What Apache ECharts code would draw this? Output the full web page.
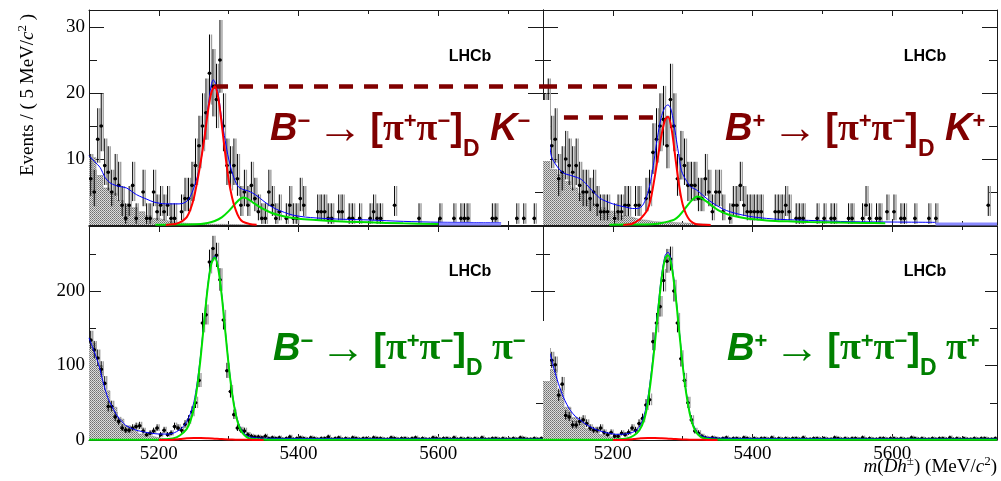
<!DOCTYPE html>
<html>
<head>
<meta charset="utf-8">
<script src="https://cdn.jsdelivr.net/npm/echarts@6.0.0/dist/echarts.min.js"></script>
<style>
html,body{margin:0;padding:0;background:#ffffff;}
#chart{width:1001px;height:481px;}
</style>
</head>
<body>
<div id="chart"></div>
<script>
// ================= DATA =================
const massMin = 5100, massMax = 5750, binWidth = 5, hatchBinWidth = 10;

// tick values / labels
const xTickMajor = [5200, 5400, 5600];
const xTickMinor = [5300, 5500, 5700];
const xLabels = [5200, 5400, 5600];
const yTopMajor = [10, 20, 30];
const yTopMinor = [5, 15, 25];
const yTopLabels = [10, 20, 30];
const yBotMajor = [100, 200];
const yBotMinor = [50, 150, 250];
const yBotLabels = [0, 100, 200];

// events per 5 MeV bin starting at 5100 MeV
const countsDKminus = [7,5,13,15,9,8,5,7,6,3, 1,3,6,1,0,5,1,1,5,2, 3,2,3,1,1,0,2,4,4,6,
 9,12,15,17,23,21,19,25,15,9, 8,9,7,3,5,3,6,4,2,1, 1,5,3,1,2,0,1,3,1,1, 4,3,0,0,0,2,2,2,1,1,
 0,2,2,0,1,1,0,1,0,0, 1,2,1,1,0,0,0,3,0,0, 0,0,0,0,1,0,0,0,0,0, 1,0,0,0,1,0,1,1,1,0,
 0,0,0,0,0,1,1,0,0,0, 0,0,1,0,1,0,0,1,0,0];
const countsDKplus = [15,17,12,13,7,8,10,9,8,9, 6,5,5,4,5,3,2,2,2,0, 1,2,2,3,3,0,3,3,0,4,
 5,11,13,15,16,12,19,15,7,10, 9,6,6,6,4,4,7,5,2,5, 5,2,0,1,3,3,6,3,2,2, 2,2,2,0,0,0,2,2,2,3,
 2,0,1,1,1,0,0,0,1,0, 1,0,1,1,0,0,0,1,1,0, 0,1,3,1,0,1,1,0,2,0, 2,0,1,1,0,0,1,0,0,0,
 1,0,1,0,0,0,0,0,0,0, 0,0,0,0,0,0,0,3,0,0];
const countsDpiminus = [134,121,110,95,76,45,45,31,25,16, 13,13,16,18,19,12,7,9,12,16, 7,13,7,9,18,16,13,21,27,38,
 50,80,157,168,239,257,248,215,161,93, 65,34,16,13,12,7,5,4,4,3, 5,2,3,2,3,1,2,4,1,2, 3,2,1,3,2,1,2,2,4,1,
 2,3,1,2,1,3,2,1,2,2, 1,3,2,2,1,1,3,2,1,2, 2,1,2,3,1,2,1,1,3,2, 1,2,2,1,3,1,2,1,2,1,
 2,1,3,1,1,2,2,1,2,1, 1,2,1,3,2,1,1,2,1,2];
const countsDpiplus = [125,112,107,101,60,75,33,31,20,20, 25,27,22,16,13,13,16,10,7,10, 5,5,9,7,10,16,13,22,29,47,
 54,132,157,179,214,240,243,200,157,109, 80,50,27,12,9,5,3,2,3,2, 1,2,3,1,2,2,1,3,2,1, 2,1,2,2,1,3,1,2,1,2,
 1,2,2,1,3,1,1,2,2,1, 2,1,1,3,2,1,2,1,2,2, 1,3,1,2,1,1,2,2,1,2, 2,1,2,1,1,3,2,1,2,1,
 1,2,1,2,2,1,3,1,2,1, 2,1,1,2,1,2,2,1,1,2];

// partially reconstructed background histograms (10 MeV bins from 5100)
const hatchDKminus = [10.2,7.5,5.6,4.8,3.7,3.1,2.6,2.0,1.4,1.0,0.7,0.5,0.35,0.25,0.2,0.15,0.12,0.1,0.1,0.08,0.06,0.05,0.03];
const hatchDKplus = [9.7,8.4,7.6,6.6,5.6,4.8,3.8,3.2,2.6,2.1,1.8,1.4,1.1,0.8,0.7,0.5,0.45,0.4,0.35,0.3,0.25,0.2,0.15,0.1];
const hatchDpiminus = [130,100,66,44,28,19,12.5,8,5,3,1.5,0.8,0.3];
const hatchDpiplus = [79,95,66,44,30,21,15,10,7,4,2,1,0.5];

// fit curves [mass, value]
const redDKminus = [[5210,0],[5220,0.1],[5225,0.2],[5230,0.4],[5235,0.7],[5240,1.2],[5245,2.3],[5250,4.0],[5255,6.6],[5260,9.6],[5265,13.0],[5270,17.0],[5275,20.0],[5280,21.0],[5285,19.3],[5290,15.3],[5295,10.8],[5300,6.8],[5305,4.1],[5310,2.3],[5315,1.1],[5320,0.5],[5330,0.15],[5340,0.03]];
const greenDKminus = [[5195,0.05],[5220,0.06],[5240,0.08],[5260,0.15],[5270,0.3],[5280,0.6],[5290,1.15],[5300,2.1],[5310,3.3],[5317,4.0],[5322,4.15],[5328,3.9],[5335,3.4],[5342,2.9],[5350,2.4],[5360,1.9],[5370,1.55],[5380,1.3],[5390,1.1],[5400,0.95],[5420,0.78],[5440,0.65],[5470,0.5],[5500,0.4],[5550,0.25],[5600,0.15]];
const blueDKminus = [[5100,10.5],[5108,9.6],[5116,8.7],[5123,7.2],[5130,6.4],[5138,6.0],[5146,5.8],[5154,5.6],[5161,5.1],[5168,4.6],[5176,4.2],[5183,3.9],[5192,3.5],[5201,3.3],[5210,3.2],[5220,3.2],[5229,3.2],[5235,3.3],[5240,3.6],[5245,4.3],[5250,5.6],[5255,7.3],[5260,9.6],[5265,13.2],[5270,17.5],[5275,21.2],[5278,22.0],[5282,21.2],[5286,19.2],[5290,16.0],[5295,12.8],[5300,10.0],[5306,7.6],[5313,5.9],[5320,5.4],[5327,5.2],[5335,4.8],[5342,4.3],[5349,3.7],[5358,3.0],[5368,2.4],[5380,1.9],[5392,1.5],[5410,1.2],[5440,0.97],[5470,0.85],[5501,0.76],[5550,0.55],[5601,0.42],[5650,0.38],[5690,0.35]];
const combDKminus = [[5601,0.15],[5690,0.15]];

const redDKplus = [[5215,0],[5225,0.1],[5230,0.3],[5235,0.6],[5240,1.0],[5245,1.6],[5250,2.4],[5255,4.3],[5260,7.3],[5265,10.6],[5270,13.8],[5275,16.0],[5279,16.4],[5284,14.6],[5290,9.8],[5295,5.9],[5300,3.1],[5305,1.6],[5310,0.75],[5315,0.32],[5320,0.12],[5330,0.03],[5340,0]];
const greenDKplus = [[5195,0.05],[5240,0.08],[5260,0.15],[5270,0.3],[5280,0.55],[5288,0.8],[5295,1.4],[5302,2.3],[5311,3.5],[5317,4.1],[5322,4.3],[5328,4.0],[5335,3.5],[5342,2.9],[5350,2.3],[5360,1.8],[5368,1.5],[5380,1.2],[5392,1.0],[5410,0.8],[5425,0.65],[5450,0.55],[5480,0.45],[5520,0.38],[5560,0.3],[5590,0.28]];
const blueDKplus = [[5100,14],[5108,13],[5112,10.4],[5120,8.9],[5129,7.9],[5143,7.4],[5155,6.9],[5167,5.6],[5181,4.1],[5190,3.6],[5200,3.2],[5210,2.9],[5219,2.7],[5228,2.5],[5235,2.5],[5240,2.7],[5244,3.2],[5250,4.8],[5254,6.6],[5258,9.0],[5262,12],[5266,14.6],[5270,16.6],[5275,17.9],[5279,18.2],[5283,17.6],[5287,15.6],[5291,12.9],[5295,10.2],[5298,8.3],[5302,7.3],[5306,6.6],[5311,5.8],[5320,5.3],[5329,4.5],[5338,3.7],[5348,3.0],[5358,2.4],[5368,2.0],[5382,1.6],[5396,1.3],[5420,1.0],[5440,0.85],[5480,0.7],[5540,0.5],[5600,0.45],[5662,0.4]];
const combDKplus = [[5662,0.15],[5750,0.15]];

const redDpiminus = [[5200,0.1],[5220,0.4],[5230,1.2],[5240,2.2],[5250,2.8],[5260,2.8],[5270,2.4],[5280,1.8],[5290,1.2],[5300,0.8],[5310,0.5],[5320,0.3],[5335,0.15],[5350,0.05]];
const greenDpiminus = [[5100,0.3],[5200,0.5],[5220,2],[5230,6],[5240,15],[5245,25],[5250,42],[5255,72],[5260,112],[5265,160],[5270,205],[5275,236],[5280,245],[5285,230],[5290,194],[5295,147],[5300,100],[5305,62],[5310,35],[5315,18],[5320,9],[5325,4.5],[5330,2.2],[5340,0.9],[5360,0.5],[5750,0.4]];
const blueDpiminus = [[5100,137],[5105,125],[5110,112],[5115,98],[5119,82],[5124,65],[5128,54],[5133,45],[5138,36],[5143,29],[5148,24],[5152,20],[5160,16],[5167,13.4],[5175,11.5],[5181,10.3],[5190,9],[5201,8],[5214,8],[5220,9],[5225,11],[5230,14],[5235,18],[5240,25],[5245,35],[5250,50],[5255,78],[5260,116],[5265,163],[5270,207],[5275,238],[5280,247],[5285,232],[5290,196],[5295,149],[5300,102],[5305,64],[5310,37],[5315,20],[5320,11],[5325,6.5],[5330,4.2],[5340,2.8],[5360,2.2],[5400,2.0],[5500,1.8],[5600,1.6],[5750,1.4]];

const redDpiplus = [[5200,0.1],[5220,0.4],[5230,1.2],[5240,2.2],[5250,2.8],[5260,2.8],[5270,2.4],[5280,1.8],[5290,1.2],[5300,0.8],[5310,0.5],[5320,0.3],[5335,0.15],[5350,0.05]];
const greenDpiplus = [[5100,0.3],[5200,0.5],[5220,2],[5230,6],[5238,13],[5245,28],[5250,50],[5255,85],[5260,128],[5265,175],[5270,218],[5275,244],[5279,248],[5284,234],[5290,192],[5295,146],[5300,100],[5305,63],[5310,36],[5315,19],[5320,9.5],[5325,4.8],[5330,2.4],[5340,1.0],[5360,0.5],[5750,0.4]];
const blueDpiplus = [[5100,125],[5109,118],[5115,98],[5122,76],[5129,58],[5134,48],[5139,40],[5146,32],[5153,27],[5160,22],[5167,18],[5176,14],[5186,11],[5195,9],[5205,7.6],[5215,7.8],[5224,9],[5232,12],[5239,19],[5245,34],[5250,56],[5255,91],[5260,134],[5265,181],[5270,223],[5275,248],[5279,252],[5284,238],[5290,195],[5295,149],[5300,102],[5305,65],[5310,38],[5315,21],[5320,11.5],[5325,6.8],[5330,4.4],[5340,3.0],[5360,2.3],[5400,2.0],[5500,1.8],[5600,1.6],[5750,1.4]];

// dashed peak-height guides
const dashDKminus = [[5279,21.0],[5750,21.0]];
const dashDKminusCarry = [[5100,21.0],[5273,21.0]];
const dashDKplus = [[5130,16.4],[5259,16.4]];

// ================= HELPERS =================
function poisLo(n){ const t = 1 - 1/(9*n) - 1/(3*Math.sqrt(n)); return n*t*t*t; }
function poisHi(n){ const m = n+1; const t = 1 - 1/(9*m) + 1/(3*Math.sqrt(m)); return m*t*t*t; }
function pointData(counts){
  const out = [];
  counts.forEach((n,k)=>{ if(n>0){ out.push([massMin + binWidth*(k+0.5), n, Math.max(0,poisLo(n)), poisHi(n)]); } });
  return out;
}
function hatchData(vals){
  const out = vals.map((v,i)=>[massMin + hatchBinWidth*i, v]);
  out.push([massMin + hatchBinWidth*vals.length, vals[vals.length-1]]);
  return out;
}
function makePattern(){
  const c = document.createElement('canvas'); c.width = 2; c.height = 2;
  const ctx = c.getContext('2d');
  ctx.fillStyle = '#dcdcdc'; ctx.fillRect(0,0,2,2);
  ctx.fillStyle = '#6e6e6e'; ctx.fillRect(0,0,1,1);
  ctx.fillStyle = '#8c8c8c'; ctx.fillRect(1,1,1,1);
  return {image: c, repeat: 'repeat'};
}
const pattern = makePattern();

function renderPoint(params, api){
  const m = api.value(0), n = api.value(1), lo = api.value(2), hi = api.value(3);
  const c = api.coord([m, n]);
  const cLo = api.coord([m, lo]), cHi = api.coord([m, hi]);
  const cL = api.coord([m - binWidth/2, n]), cR = api.coord([m + binWidth/2, n]);
  return {type:'group', children:[
    {type:'line', shape:{x1:c[0]+2, y1:cLo[1], x2:c[0]+2, y2:cHi[1]}, style:{stroke:'#a0a0a0', lineWidth:1.4}},
    {type:'line', shape:{x1:c[0], y1:cLo[1], x2:c[0], y2:cHi[1]}, style:{stroke:'#000', lineWidth:1}},
    {type:'line', shape:{x1:cL[0], y1:c[1], x2:cR[0], y2:c[1]}, style:{stroke:'#000', lineWidth:1}},
    {type:'circle', shape:{cx:c[0], cy:c[1], r:1.8}, style:{fill:'#000'}}
  ]};
}

const AX = '#1a1a1a';
const plainNum = v => String(v);
function xAx(g, pos, ticks, len, showLine, labels){
  return {type:'value', gridIndex:g, position:pos, min:massMin, max:massMax,
    axisLine:{show:showLine, onZero:false, lineStyle:{color:AX, width:1}},
    axisTick:{show:true, inside:true, length:len, customValues:ticks, lineStyle:{color:AX, width:1}},
    axisLabel: labels ? {show:true, customValues:labels, formatter:plainNum, margin:5, color:'#000', fontFamily:'Liberation Serif', fontSize:19} : {show:false},
    splitLine:{show:false}, minorTick:{show:false}};
}
function yAx(g, pos, max, ticks, len, showLine, labels){
  return {type:'value', gridIndex:g, position:pos, min:0, max:max,
    axisLine:{show:showLine, onZero:false, lineStyle:{color:AX, width:1}},
    axisTick:{show:true, inside:true, length:len, customValues:ticks, lineStyle:{color:AX, width:1}},
    axisLabel: labels ? {show:true, customValues:labels, formatter:plainNum, margin:4, color:'#000', fontFamily:'Liberation Serif', fontSize:19} : {show:false},
    splitLine:{show:false}, minorTick:{show:false}};
}

// ================= PANELS =================
const topMax = 215/6.6, botMax = 214/0.745;
const panels = [
  {grid:{left:89, top:10, width:454, height:215}, max:topMax, maj:yTopMajor, min:yTopMinor, lab:yTopLabels, mjL:15, mnL:8, showY:true, showX:false,
   counts:countsDKminus, hatch:hatchDKminus, blue:blueDKminus, green:greenDKminus, red:redDKminus, comb:combDKminus, dashes:[dashDKminus]},
  {grid:{left:543, top:10, width:454, height:215}, max:topMax, maj:yTopMajor, min:yTopMinor, lab:yTopLabels, mjL:15, mnL:8, showY:false, showX:false,
   counts:countsDKplus, hatch:hatchDKplus, blue:blueDKplus, green:greenDKplus, red:redDKplus, comb:combDKplus, dashes:[dashDKminusCarry, dashDKplus]},
  {grid:{left:89, top:226, width:454, height:214}, max:botMax, maj:yBotMajor, min:yBotMinor, lab:yBotLabels, mjL:12, mnL:7, showY:true, showX:true,
   counts:countsDpiminus, hatch:hatchDpiminus, blue:blueDpiminus, green:greenDpiminus, red:redDpiminus, comb:null, dashes:[]},
  {grid:{left:543, top:226, width:454, height:214}, max:botMax, maj:yBotMajor, min:yBotMinor, lab:yBotLabels, mjL:12, mnL:7, showY:false, showX:true,
   counts:countsDpiplus, hatch:hatchDpiplus, blue:blueDpiplus, green:greenDpiplus, red:redDpiplus, comb:null, dashes:[]}
];

const grids = [], xAxes = [], yAxes = [], series = [];
panels.forEach((p,g)=>{
  grids.push(Object.assign({containLabel:false, outerBoundsMode:'none', show:false}, p.grid));
  xAxes.push(xAx(g,'bottom',xTickMajor,6,true,p.showX?xLabels:null));
  xAxes.push(xAx(g,'bottom',xTickMinor,4,false,null));
  xAxes.push(xAx(g,'top',xTickMajor,6,true,null));
  xAxes.push(xAx(g,'top',xTickMinor,4,false,null));
  yAxes.push(yAx(g,'left',p.max,p.maj,p.mjL,true,p.showY?p.lab:null));
  yAxes.push(yAx(g,'left',p.max,p.min,p.mnL,false,null));
  yAxes.push(yAx(g,'right',p.max,p.maj,p.mjL,true,null));
  yAxes.push(yAx(g,'right',p.max,p.min,p.mnL,false,null));
  const xi = 4*g, yi = 4*g;
  series.push({type:'line', xAxisIndex:xi, yAxisIndex:yi, data:hatchData(p.hatch), step:'end', symbol:'none',
    lineStyle:{width:0.6, color:'#8a8a8a'}, areaStyle:{color:pattern, opacity:1}, z:1, silent:true, animation:false});
  series.push({type:'custom', xAxisIndex:xi, yAxisIndex:yi, data:pointData(p.counts), renderItem:renderPoint,
    encode:{x:0, y:1}, clip:true, z:2, silent:true, animation:false});
  series.push({type:'line', xAxisIndex:xi, yAxisIndex:yi, data:p.blue, smooth:0.3, symbol:'none',
    lineStyle:{width:1, color:'#0000ff'}, z:3, silent:true, animation:false});
  if(p.comb){
    series.push({type:'line', xAxisIndex:xi, yAxisIndex:yi, data:p.comb, symbol:'none',
      lineStyle:{width:3, color:'#8a8aff'}, z:3, silent:true, animation:false});
  }
  series.push({type:'line', xAxisIndex:xi, yAxisIndex:yi, data:p.green, smooth:0.3, symbol:'none',
    lineStyle:{width:2, color:'#00e000'}, z:4, silent:true, animation:false});
  const red = {type:'line', xAxisIndex:xi, yAxisIndex:yi, data:p.red, smooth:0.3, symbol:'none',
    lineStyle:{width:2, color:'#ff0000'}, z:5, silent:true, animation:false};
  if(p.dashes.length){
    red.markLine = {symbol:['none','none'], silent:true, animation:false, label:{show:false},
      lineStyle:{type:[14,11], width:4.5, color:'#800000', cap:'butt'},
      data: p.dashes.map(d=>[{coord:d[0]},{coord:d[1]}])};
  }
  series.push(red);
});

// ================= TEXT =================
const RED = '#800000', GRN = '#008000';
function decayRich(col){ return {
  b:{fontFamily:'Liberation Sans', fontSize:38, fontWeight:'bold', fontStyle:'italic', fill:col, height:40, lineHeight:40, verticalAlign:'top'},
  bu:{fontFamily:'Liberation Sans', fontSize:38, fontWeight:'bold', fill:col, height:40, lineHeight:40, verticalAlign:'top'},
  pi:{fontFamily:'Liberation Serif', fontSize:38, fontWeight:'bold', fill:col, height:40, lineHeight:40, verticalAlign:'top'},
  ar:{fontFamily:'Liberation Serif', fontSize:46, fill:col, height:42, lineHeight:42, verticalAlign:'top'},
  g:{fontFamily:'Liberation Serif', fontSize:28, fill:col, height:40, lineHeight:40, verticalAlign:'top'},
  sp:{fontFamily:'Liberation Sans', fontSize:22, fontWeight:'bold', fill:col, height:24, lineHeight:24, verticalAlign:'top'},
  sb:{fontFamily:'Liberation Sans', fontSize:23, fontWeight:'bold', fill:col, height:79, lineHeight:79, verticalAlign:'top'}
};}
function decayText(x, y, str, col){
  return {type:'text', x:x, y:y, z:60, silent:true,
    style:{text:str, rich:decayRich(col), align:'left', verticalAlign:'top', textAlign:'left', textVerticalAlign:'top', fill:col}};
}
function lhcb(x, y){
  return {type:'text', x:x, y:y, z:60, silent:true,
    style:{text:'LHCb', fontFamily:'Liberation Sans', fontWeight:'bold', fontSize:16, fill:'#000', align:'center', verticalAlign:'middle', textAlign:'center', textVerticalAlign:'middle'}};
}
const serifRich = {
  n:{fontFamily:'Liberation Serif', fontSize:19, fill:'#000', height:22, lineHeight:22, verticalAlign:'top'},
  i:{fontFamily:'Liberation Serif', fontSize:19, fontStyle:'italic', fill:'#000', height:22, lineHeight:22, verticalAlign:'top'},
  s:{fontFamily:'Liberation Serif', fontSize:13, fill:'#000', height:12, lineHeight:12, verticalAlign:'top'}
};

const graphic = [
  {type:'rect', shape:{x:527, y:100, width:23, height:61}, style:{fill:'#ffffff'}, z:50, silent:true},
  {type:'rect', shape:{x:527, y:321, width:23, height:60}, style:{fill:'#ffffff'}, z:50, silent:true},
  decayText(270, 110, '{b|B}{sp|−}{g| }{ar|→}{g| }{bu|[}{pi|π}{sp|+}{pi|π}{sp|−}{bu|]}{sb|D}{b| K}{sp|−}', RED),
  decayText(725, 110, '{b|B}{sp|+}{g| }{ar|→}{g| }{bu|[}{pi|π}{sp|+}{pi|π}{sp|−}{bu|]}{sb|D}{b| K}{sp|+}', RED),
  decayText(273, 329.5, '{b|B}{sp|−}{g| }{ar|→}{g| }{bu|[}{pi|π}{sp|+}{pi|π}{sp|−}{bu|]}{sb|D}{pi| π}{sp|−}', GRN),
  decayText(727, 329.5, '{b|B}{sp|+}{g| }{ar|→}{g| }{bu|[}{pi|π}{sp|+}{pi|π}{sp|−}{bu|]}{sb|D}{pi| π}{sp|+}', GRN),
  lhcb(470, 57), lhcb(925, 57), lhcb(470, 272), lhcb(925, 272),
  {type:'text', x:28, y:95, rotation:Math.PI/2, z:60, silent:true,
    style:{text:'{n|Events / ( 5 MeV/}{i|c}{s|2}{n| )}', rich:serifRich, align:'center', verticalAlign:'middle', textAlign:'center', textVerticalAlign:'middle'}},
  {type:'text', x:997, y:467, z:60, silent:true,
    style:{text:'{i|m}{n|(}{i|Dh}{s|±}{n|) (MeV/}{i|c}{s|2}{n|)}', rich:serifRich, align:'right', verticalAlign:'middle', textAlign:'right', textVerticalAlign:'middle'}}
];

const chart = echarts.init(document.getElementById('chart'), null, {renderer:'canvas', width:1001, height:481});
chart.setOption({
  animation:false,
  backgroundColor:'#ffffff',
  grid:grids, xAxis:xAxes, yAxis:yAxes, series:series, graphic:graphic
});
</script>
</body>
</html>
